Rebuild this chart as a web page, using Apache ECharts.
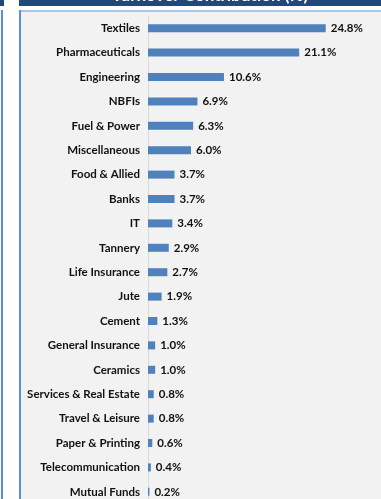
<!DOCTYPE html>
<html>
<head>
<meta charset="utf-8">
<script src="https://cdn.jsdelivr.net/npm/echarts@6/dist/echarts.min.js"></script>
<style>
  html, body { margin: 0; padding: 0; background: #ffffff; overflow: hidden; }
  #chart { width: 381px; height: 510px; }
</style>
</head>
<body>
<div id="chart"></div>
<script>
const sectors = [
  'Textiles', 'Pharmaceuticals', 'Engineering', 'NBFIs', 'Fuel & Power',
  'Miscellaneous', 'Food & Allied', 'Banks', 'IT', 'Tannery',
  'Life Insurance', 'Jute', 'Cement', 'General Insurance', 'Ceramics',
  'Services & Real Estate', 'Travel & Leisure', 'Paper & Printing',
  'Telecommunication', 'Mutual Funds'
]
const contribution = [
  24.8, 21.1, 10.6, 6.9, 6.3,
  6.0, 3.7, 3.7, 3.4, 2.9,
  2.7, 1.9, 1.3, 1.0, 1.0,
  0.8, 0.8, 0.6, 0.4, 0.2
]
const chartTitle = 'Turnover Contribution (%)'

const font = 'Lato, "Open Sans", sans-serif'
const myChart = echarts.init(document.getElementById('chart'))

myChart.setOption({
  animation: false,
  graphic: [
    // left strip
    { type: 'rect', shape: { x: 0, y: 0, width: 4, height: 6 }, style: { fill: '#1f497d' } },
    { type: 'rect', shape: { x: 1, y: 10, width: 2, height: 510 }, style: { fill: '#5b8fd5' } },
    // title bar
    { type: 'rect', shape: { x: 19, y: 0, width: 362, height: 6 }, style: { fill: '#1f497d' } },
    {
      type: 'text', x: 210, y: 4,
      style: {
        text: chartTitle, fill: '#ffffff', font: 'bold 17px ' + font,
        textAlign: 'center', textVerticalAlign: 'bottom'
      }
    },
    // panel
    { type: 'rect', shape: { x: 19, y: 10, width: 370, height: 510 }, style: { fill: '#f2f2f2' } },
    { type: 'rect', shape: { x: 19, y: 10, width: 362, height: 2 }, style: { fill: '#a9c6e8' } },
    { type: 'rect', shape: { x: 19, y: 10, width: 2, height: 510 }, style: { fill: '#5b8fd5' } }
  ],
  grid: { left: 148, right: 18, top: 16, height: 488 },
  xAxis: { type: 'value', min: 0, max: 30, show: false },
  yAxis: {
    type: 'category',
    inverse: true,
    data: sectors,
    axisLine: { show: true, lineStyle: { color: '#d9d9d9', width: 1 } },
    axisTick: { show: false },
    axisLabel: { margin: 8, fontSize: 11.5, fontWeight: 'bold', color: '#111111', fontFamily: font }
  },
  series: [
    {
      name: 'Turnover Contribution',
      type: 'bar',
      data: contribution,
      barWidth: 8,
      itemStyle: { color: '#4f81bd' },
      label: {
        show: true,
        position: 'right',
        distance: 5,
        fontSize: 11.5,
        fontWeight: 'bold',
        color: '#111111',
        fontFamily: font,
        formatter: p => p.value.toFixed(1) + '%'
      }
    }
  ]
})
</script>
</body>
</html>
